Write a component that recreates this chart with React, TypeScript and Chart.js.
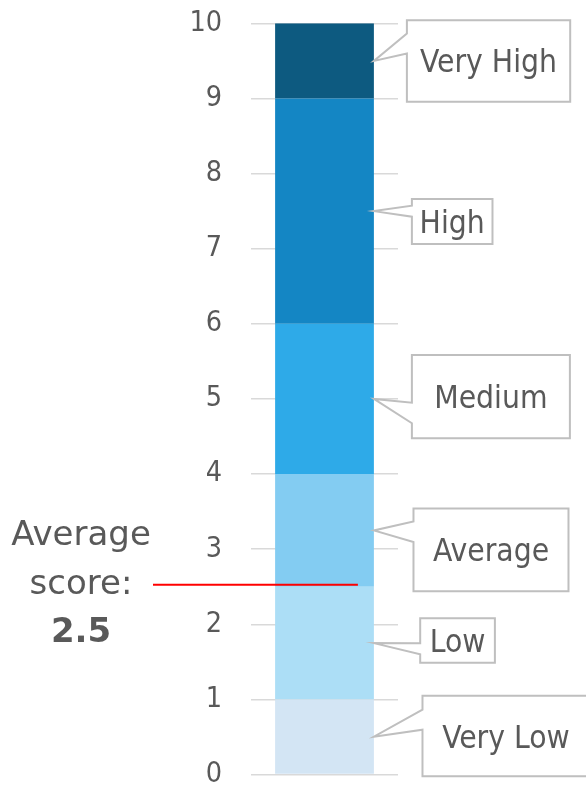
import React, { useEffect, useRef } from "react";
import { Chart, registerables } from "chart.js";

Chart.register(...registerables);

// ---- data ----
const CATEGORIES = [""];
const SEGMENT_LABELS = ["Very Low", "Low", "Average", "Medium", "High", "Very High"];
const SEGMENT_SIZES = [1, 1.5, 1.5, 2, 3, 1];
const SEGMENT_COLORS = ["#d3e5f4", "#acdef6", "#83ccf2", "#2eaae8", "#1486c4", "#0d5a80"];
const Y_MIN = 0;
const Y_MAX = 10;
const Y_STEP = 1;
const AVERAGE_SCORE = 2.5;
const AVERAGE_TEXT = ["Average", "score:"];

// ---- callout layout (relative to the anchor at the bar's right edge, segment middle) ----
// dx: box left offset, dy: box top offset, w, h, n1/n2: notch top/bottom offsets
const CALLOUT_LAYOUT = [
  { dx: 48.6, dy: -41, w: 167, h: 80.7, n1: -27, n2: -7 },      // Very Low
  { dx: 46.3, dy: -24.8, w: 74.7, h: 44.4, n1: 0.2, n2: 11.2 },  // Low
  { dx: 39.6, dy: -22, w: 155, h: 82.7, n1: -9, n2: 11.5 },       // Average
  { dx: 38, dy: -44, w: 158, h: 83.3, n1: 3.7, n2: 24.3 },        // Medium
  { dx: 38, dy: -12.1, w: 80.6, h: 45, n1: -5.4, n2: 5.6 },       // High
  { dx: 33, dy: -40.7, w: 163.3, h: 81.5, n1: -27.4, n2: -7.4 },  // Very High
];

const FONT = "'DejaVu Sans', 'Noto Sans', sans-serif";
const LABEL_FONT = "'DejaVu Sans Condensed', 'DejaVu Sans', sans-serif";
const TICK_FONT = "'DejaVu Sans Condensed', 'DejaVu Sans', sans-serif";
const TEXT_COLOR = "#595959";

const calloutPlugin = {
  id: "callouts",
  afterDraw(chart: any) {
    const ctx = chart.ctx as CanvasRenderingContext2D;
    const yScale = chart.scales.y;
    ctx.save();
    // callouts
    chart.data.datasets.forEach((ds: any, i: number) => {
      const meta = chart.getDatasetMeta(i);
      const bar: any = meta.data[0];
      if (!bar) return;
      const props = bar.getProps(["x", "y", "base", "width"], true);
      const ax = props.x + props.width / 2;
      const ay = (props.y + props.base) / 2;
      const L = CALLOUT_LAYOUT[i];
      const left = ax + L.dx;
      const top = ay + L.dy;
      const right = left + L.w;
      const bottom = top + L.h;
      ctx.beginPath();
      ctx.moveTo(left, top);
      ctx.lineTo(right, top);
      ctx.lineTo(right, bottom);
      ctx.lineTo(left, bottom);
      ctx.lineTo(left, ay + L.n2);
      ctx.lineTo(ax, ay);
      ctx.lineTo(left, ay + L.n1);
      ctx.closePath();
      ctx.fillStyle = "#ffffff";
      ctx.fill();
      ctx.strokeStyle = "#bfbfbf";
      ctx.lineWidth = 2;
      ctx.lineJoin = "miter";
      ctx.stroke();
      const size = 31.5;
      ctx.font = `${size}px ${LABEL_FONT}`;
      ctx.fillStyle = TEXT_COLOR;
      ctx.textAlign = "center";
      ctx.textBaseline = "alphabetic";
      ctx.fillText(ds.label, (left + right) / 2, (top + bottom) / 2 + size * 0.73 / 2);
    });

    // average score line
    const yAvg = yScale.getPixelForValue(AVERAGE_SCORE);
    const bar0: any = chart.getDatasetMeta(0).data[0];
    const barRight = bar0.x + bar0.width / 2;
    ctx.beginPath();
    ctx.moveTo(153, yAvg - 2);
    ctx.lineTo(barRight - 16, yAvg - 2);
    ctx.strokeStyle = "#ff0000";
    ctx.lineWidth = 2;
    ctx.stroke();

    // average score text
    ctx.fillStyle = TEXT_COLOR;
    ctx.textAlign = "center";
    ctx.textBaseline = "alphabetic";
    ctx.font = `34px ${FONT}`;
    ctx.fillText(AVERAGE_TEXT[0], 81, yAvg - 41.7);
    ctx.fillText(AVERAGE_TEXT[1], 81, yAvg + 7);
    ctx.font = `bold 34px ${FONT}`;
    ctx.fillText(String(AVERAGE_SCORE), 81, yAvg + 55);
    ctx.restore();
  },
};

export default function App() {
  const canvasRef = useRef<HTMLCanvasElement | null>(null);

  useEffect(() => {
    if (!canvasRef.current) return;
    Chart.defaults.font.family = FONT;
    const chart = new Chart(canvasRef.current, {
      type: "bar",
      data: {
        labels: CATEGORIES,
        datasets: SEGMENT_LABELS.map((label, i) => ({
          label,
          data: [SEGMENT_SIZES[i]],
          backgroundColor: SEGMENT_COLORS[i],
          borderWidth: 0,
          categoryPercentage: 1,
          barPercentage: 0.672,
        })),
      },
      options: {
        responsive: false,
        animation: false,
        layout: { padding: { top: 23.3, bottom: 10.4, left: 0, right: 188 } },
        plugins: {
          legend: { display: false },
          tooltip: { enabled: false },
          title: { display: false },
        },
        scales: {
          x: { stacked: true, display: false, grid: { display: false } },
          y: {
            stacked: true,
            min: Y_MIN,
            max: Y_MAX,
            ticks: {
              stepSize: Y_STEP,
              padding: 0,
              color: TEXT_COLOR,
              font: { family: TICK_FONT, size: 28.5, lineHeight: 0.6 },
            },
            grid: {
              color: "#d9d9d9",
              lineWidth: 1.5,
              drawTicks: true,
              tickLength: 29,
              tickColor: "rgba(0,0,0,0)",
            },
            border: { display: false },
            afterFit: (s: any) => {
              s.width = 251;
            },
          },
        },
      },
      plugins: [calloutPlugin],
    });
    return () => chart.destroy();
  }, []);

  return (
    <div style={{ position: "absolute", left: 0, top: 0, width: 586, height: 785, background: "#fff" }}>
      <canvas ref={canvasRef} width={586} height={785} style={{ width: 586, height: 785, display: "block" }} />
    </div>
  );
}
